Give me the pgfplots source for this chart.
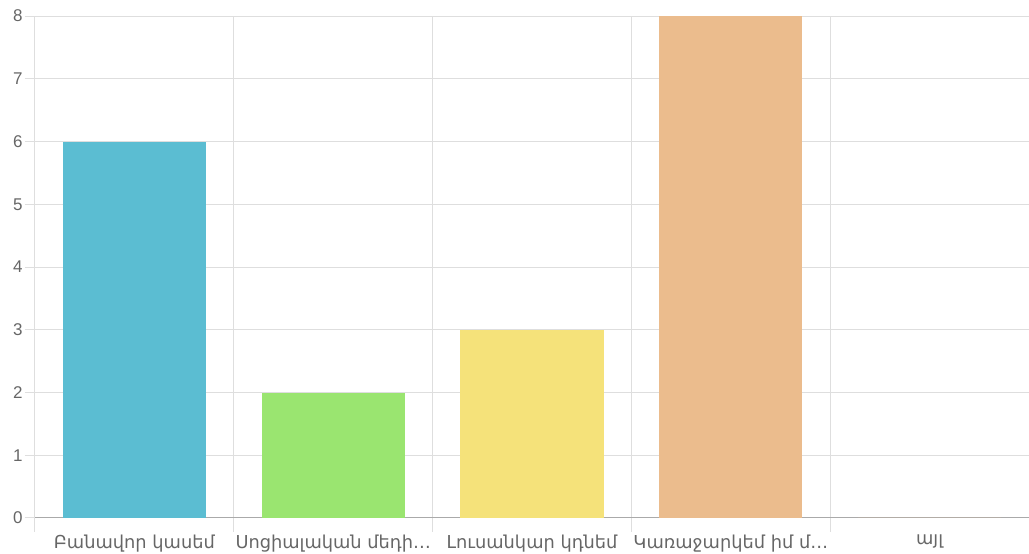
\documentclass[border=0pt]{standalone}
\usepackage{pgfplots}
\pgfplotsset{compat=1.18}
\usepackage{fontspec}
\setmainfont{Liberation Sans}
\newfontfamily\armfont{DejaVu Sans}
\definecolor{barA}{HTML}{5BBDD2}
\definecolor{barB}{HTML}{9AE570}
\definecolor{barC}{HTML}{F5E27A}
\definecolor{barD}{HTML}{EBBC8D}
\definecolor{gridgray}{HTML}{DEDEDE}
\definecolor{axisgray}{HTML}{AAAAAA}
\definecolor{labelgray}{HTML}{666666}
\begin{document}
\begin{tikzpicture}
\useasboundingbox (-35pt,-36pt) rectangle (994pt,518pt);
\begin{axis}[
  at={(0pt,0pt)}, anchor=south west,
  scale only axis, width=994pt, height=502pt,
  xmin=0, xmax=5, ymin=0, ymax=8,
  axis x line=bottom, axis y line=left,
  axis line style={-},
  x axis line style={draw=axisgray, line width=1pt},
  y axis line style={draw=gridgray, line width=1pt},
  tick align=outside,
  ytick={0,...,8},
  major tick length=10pt,
  minor tick length=14pt,
  ymajorgrids, xminorgrids,
  grid style={draw=gridgray, line width=1pt},
  minor grid style={draw=gridgray, line width=1pt},
  major tick style={draw=gridgray, line width=1pt},
  minor tick style={draw=gridgray, line width=1pt},
  xtick={0.5,1.5,2.5,3.5,4.5},
  minor xtick={0,1,2,3,4},
  major x tick style={draw=none},
  xticklabels={{Բանավոր կասեմ}, {Սոցիալական մեդի…}, {Լուսանկար կդնեմ}, {Կառաջարկեմ իմ մ…}, {այլ}},
  xticklabel style={font=\armfont\fontsize{17.8}{18}\selectfont, text=labelgray, yshift=-3pt},
  yticklabel style={font=\fontsize{17}{17}\selectfont, text=labelgray, xshift=1pt},
  /pgf/number format/assume math mode=true,
]
\addplot[ybar, bar shift=0, bar width=0.72, fill=barA, draw=none] coordinates {(0.5,6)};
\addplot[ybar, bar shift=0, bar width=0.72, fill=barB, draw=none] coordinates {(1.5,2)};
\addplot[ybar, bar shift=0, bar width=0.72, fill=barC, draw=none] coordinates {(2.5,3)};
\addplot[ybar, bar shift=0, bar width=0.72, fill=barD, draw=none] coordinates {(3.5,8)};
\addplot[ybar, bar shift=0, bar width=0.72, fill=barD, draw=none] coordinates {(4.5,0)};
\end{axis}
\end{tikzpicture}
\end{document}
